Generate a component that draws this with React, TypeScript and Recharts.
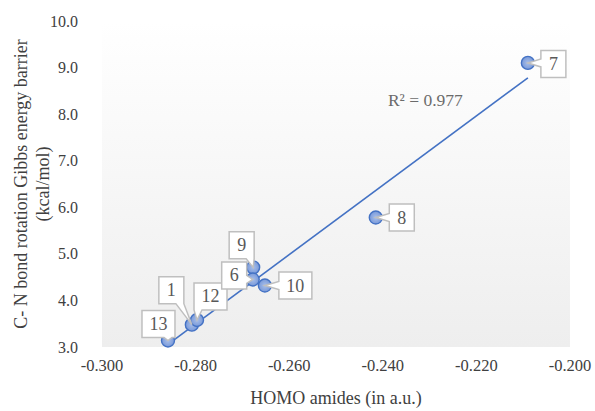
import React from 'react'
import {
  ScatterChart,
  Scatter,
  XAxis,
  YAxis,
  CartesianGrid,
  ReferenceLine,
  ReferenceDot,
  Label,
} from 'recharts'

const FONT = "'Liberation Serif', 'Times New Roman', serif"

// compound numbers, HOMO energies (a.u.) and C-N rotation barriers (kcal/mol)
const compounds = ['13', '1', '12', '9', '6', '10', '8', '7']
const homo = [-0.2859, -0.2808, -0.2797, -0.2677, -0.2678, -0.2652, -0.2415, -0.209]
const barrier = [3.14, 3.48, 3.58, 4.71, 4.45, 4.32, 5.78, 9.1]

const xTicks = [-0.3, -0.28, -0.26, -0.24, -0.22, -0.2]
const yTicks = [3, 4, 5, 6, 7, 8, 9, 10]
const r2Text = 'R² = 0.977'
const r2Pos = { x: -0.2309, y: 8.3 }

// where each callout box sits relative to its marker (px)
const calloutOffset: Record<string, [number, number]> = {
  '7': [25.5, 1],
  '8': [26, 0],
  '10': [30.5, 0],
  '9': [-11.5, -22],
  '6': [-18.5, -4],
  '12': [13.5, -23.5],
  '1': [-20.5, -34.5],
  '13': [-9.5, -16.5],
}

const data = compounds.map((name, i) => ({ name, x: homo[i], y: barrier[i] }))

// least squares trendline over the data range
const n = homo.length
const mx = homo.reduce((a, b) => a + b, 0) / n
const my = barrier.reduce((a, b) => a + b, 0) / n
let sxy = 0
let sxx = 0
homo.forEach((x, i) => {
  sxy += (x - mx) * (barrier[i] - my)
  sxx += (x - mx) * (x - mx)
})
const slope = sxy / sxx
const intercept = my - slope * mx
const xMin = Math.min(...homo)
const xMax = Math.max(...homo)
const trend = [
  { x: xMin, y: intercept + slope * xMin },
  { x: xMax, y: intercept + slope * xMax },
]

const clamp = (v: number, lo: number, hi: number) => Math.max(lo, Math.min(hi, v))

function calloutPath(x0: number, y0: number, x1: number, y1: number, px: number, py: number) {
  const cx = (x0 + x1) / 2
  const cy = (y0 + y1) / 2
  const hw = (x1 - x0) / 2
  const hh = (y1 - y0) / 2
  const dx = px - cx
  const dy = py - cy
  const b = 4
  let top = ''
  let right = ''
  let bottom = ''
  let left = ''
  if (Math.abs(dx) / hw > Math.abs(dy) / hh) {
    const yy = clamp(py, y0 + b, y1 - b)
    if (dx > 0) right = `L${x1},${yy - b} L${px},${py} L${x1},${yy + b} `
    else left = `L${x0},${yy + b} L${px},${py} L${x0},${yy - b} `
  } else {
    const xx = clamp(px, x0 + b, x1 - b)
    if (dy > 0) bottom = `L${xx + b},${y1} L${px},${py} L${xx - b},${y1} `
    else top = `L${xx - b},${y0} L${px},${py} L${xx + b},${y0} `
  }
  return `M${x0},${y0} ${top}L${x1},${y0} ${right}L${x1},${y1} ${bottom}L${x0},${y1} ${left}Z`
}

const Marker = (props: any) => {
  const { cx, cy } = props
  if (cx == null || cy == null) return null
  return <circle cx={cx} cy={cy} r={6.5} fill="url(#markerFill)" stroke="#4472C4" strokeWidth={1.4} />
}

const Callout = (props: any) => {
  const { cx, cy, payload } = props
  if (cx == null || cy == null || !payload) return null
  const name: string = payload.name
  const [ox, oy] = calloutOffset[name] || [20, 0]
  const w = name.length > 1 ? 33 : 25
  const h = 27
  const bx = cx + ox
  const by = cy + oy
  const x0 = bx - w / 2
  const y0 = by - h / 2
  return (
    <g>
      <path
        d={calloutPath(x0, y0, x0 + w, y0 + h, cx, cy)}
        fill="#ffffff"
        stroke="#BFBFBF"
        strokeWidth={1.5}
        strokeLinejoin="miter"
      />
      <text x={bx} y={by + 6} textAnchor="middle" fontFamily={FONT} fontSize={18} fill="#595959">
        {name}
      </text>
    </g>
  )
}

const XTick = (p: any) => (
  <text x={p.x} y={p.y + 24} textAnchor="middle" fontFamily={FONT} fontSize={16.5} fill="#404040">
    {Number(p.payload.value).toFixed(3)}
  </text>
)

const YTick = (p: any) => (
  <text x={p.x} y={p.y + 5.5} textAnchor="end" fontFamily={FONT} fontSize={16} fill="#404040">
    {Number(p.payload.value).toFixed(1)}
  </text>
)

export default function App() {
  return (
    <div style={{ position: 'absolute', left: 0, top: 0, width: 595, height: 411, background: '#fff' }}>
      <ScatterChart width={595} height={411} margin={{ top: 21, right: 25, bottom: 0, left: 0 }}>
        <defs>
          <linearGradient id="plotBg" x1="0" y1="0" x2="0" y2="1">
            <stop offset="0%" stopColor="#ffffff" />
            <stop offset="100%" stopColor="#eeeeee" />
          </linearGradient>
          <radialGradient id="markerFill" cx="50%" cy="50%" r="60%">
            <stop offset="0%" stopColor="#a9bfe9" />
            <stop offset="100%" stopColor="#6e91d6" />
          </radialGradient>
        </defs>
        <CartesianGrid horizontal={false} vertical={false} fill="url(#plotBg)" />
        <XAxis
          type="number"
          dataKey="x"
          domain={[-0.3, -0.2]}
          ticks={xTicks}
          axisLine={false}
          tickLine={false}
          tickSize={0}
          tickMargin={0}
          height={64}
          tick={XTick}
          interval={0}
        >
          <Label
            content={(p: any) => {
              const vb = p.viewBox || {}
              return (
                <text
                  x={vb.x + vb.width / 2}
                  y={vb.y + 57}
                  textAnchor="middle"
                  fontFamily={FONT}
                  fontSize={18}
                  fill="#404040"
                >
                  HOMO amides (in a.u.)
                </text>
              )
            }}
          />
        </XAxis>
        <YAxis
          type="number"
          dataKey="y"
          domain={[3, 10]}
          ticks={yTicks}
          axisLine={false}
          tickLine={false}
          tickSize={0}
          tickMargin={24}
          width={102}
          tick={YTick}
          interval={0}
        >
          <Label
            content={(p: any) => {
              const vb = p.viewBox || {}
              const cy = vb.y + vb.height / 2
              const x1 = vb.x + 27
              const x2 = vb.x + 49
              return (
                <g fontFamily={FONT} fontSize={18} fill="#404040">
                  <text x={x1} y={cy} textAnchor="middle" transform={`rotate(-90 ${x1} ${cy})`}>
                    C- N bond rotation Gibbs energy barrier
                  </text>
                  <text x={x2} y={cy} textAnchor="middle" transform={`rotate(-90 ${x2} ${cy})`}>
                    (kcal/mol)
                  </text>
                </g>
              )
            }}
          />
        </YAxis>
        <ReferenceLine segment={trend} stroke="#4472C4" strokeWidth={1.6} ifOverflow="visible" />
        <ReferenceDot
          x={r2Pos.x}
          y={r2Pos.y}
          r={0}
          ifOverflow="visible"
          shape={(p: any) => (
            <text
              x={p.cx}
              y={p.cy + 6}
              textAnchor="middle"
              fontFamily={FONT}
              fontSize={17.5}
              fill="#6b6b6b"
            >
              {r2Text}
            </text>
          )}
        />
        <Scatter data={data} shape={Marker} isAnimationActive={false} />
        <Scatter data={data} shape={Callout} isAnimationActive={false} />
      </ScatterChart>
    </div>
  )
}
